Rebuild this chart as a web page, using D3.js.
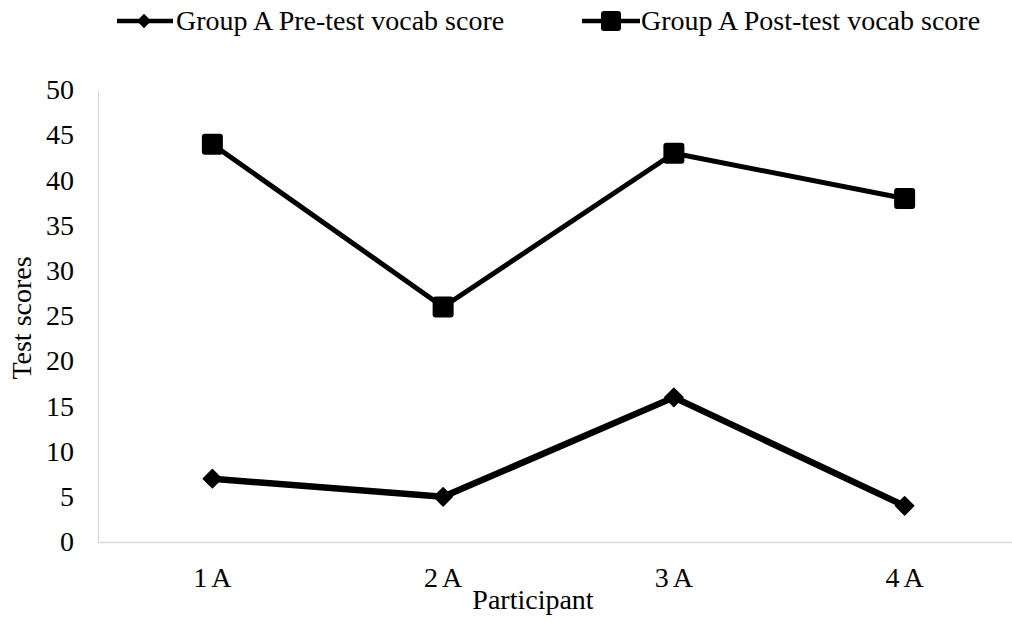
<!DOCTYPE html>
<html><head><meta charset="utf-8">
<script src="https://cdn.jsdelivr.net/npm/d3@7"></script>
<style>
html,body{margin:0;padding:0;background:#fff;}
svg text{font-family:"Liberation Serif","Times New Roman",serif;fill:#000;}
</style></head>
<body><svg id="c" width="1012" height="621"></svg>
<script>
const categories = ["1A","2A","3A","4A"];
const preScores = [7,5,16,4];
const postScores = [44,26,43,38];
const yTicks = [0,5,10,15,20,25,30,35,40,45,50];
const seriesNames = ["Group A Pre-test vocab score","Group A Post-test vocab score"];

const svg = d3.select("#c");
const x = d3.scaleBand().domain(categories).range([97,1020]);
const y = d3.scaleLinear().domain([0,50]).range([542,90]);
const FS = "28px";

// axes lines
svg.append("line").attr("x1",98.5).attr("x2",98.5).attr("y1",y(50)+1).attr("y2",y(0)+0.5)
  .attr("stroke","#d9d9d9").attr("stroke-width",1.3);
svg.append("line").attr("x1",98).attr("x2",1020).attr("y1",y(0)+0.5).attr("y2",y(0)+0.5)
  .attr("stroke","#d9d9d9").attr("stroke-width",1.3);

// y tick labels
svg.selectAll(".yt").data(yTicks).enter().append("text")
  .attr("x",74).attr("y",d=>y(d)).attr("dy","0.33em").attr("text-anchor","end")
  .style("font-size",FS).text(d=>d);

// x tick labels
svg.selectAll(".xt").data(categories).enter().append("text")
  .attr("x",d=>x(d)+x.bandwidth()/2+2).attr("y",587).attr("text-anchor","middle")
  .style("font-size",FS).style("letter-spacing","4px").text(d=>d);

// axis titles
svg.append("text").attr("x",533).attr("y",609).attr("text-anchor","middle")
  .style("font-size",FS).text("Participant");
svg.append("text").attr("transform","translate(22,318) rotate(-90)").attr("dy","0.33em")
  .attr("text-anchor","middle").style("font-size",FS).text("Test scores");

const line = d3.line().x((d,i)=>x(categories[i])+x.bandwidth()/2).y(d=>y(d));
const diamond = d3.symbol().type(d3.symbolDiamond2).size(210);

function drawSquare(g, cx, cy, s){
  g.append("rect").attr("x",cx-s/2).attr("y",cy-s/2).attr("width",s).attr("height",s)
    .attr("rx",3).attr("fill","#000");
}

// post series
svg.append("path").datum(postScores).attr("d",line).attr("fill","none")
  .attr("stroke","#000").attr("stroke-width",5).attr("stroke-linejoin","round");
postScores.forEach((v,i)=>drawSquare(svg, x(categories[i])+x.bandwidth()/2, y(v), 21));

// pre series
svg.append("path").datum(preScores).attr("d",line).attr("fill","none")
  .attr("stroke","#000").attr("stroke-width",6.5).attr("stroke-linejoin","round");
svg.selectAll(".pm").data(preScores).enter().append("path")
  .attr("d",diamond).attr("fill","#000").attr("stroke","#000").attr("stroke-width",1.5).attr("stroke-linejoin","round")
  .attr("transform",(d,i)=>`translate(${x(categories[i])+x.bandwidth()/2},${y(d)})`);

// legend
const lg1 = svg.append("g");
lg1.append("line").attr("x1",117).attr("x2",173).attr("y1",21).attr("y2",21).attr("stroke","#000").attr("stroke-width",4.5);
lg1.append("path").attr("d",d3.symbol().type(d3.symbolDiamond2).size(130)).attr("transform","translate(144,21)").attr("fill","#000");
lg1.append("text").attr("x",176).attr("y",30).style("font-size",FS).text(seriesNames[0]);

const lg2 = svg.append("g");
lg2.append("line").attr("x1",582).attr("x2",640).attr("y1",21).attr("y2",21).attr("stroke","#000").attr("stroke-width",4.5);
drawSquare(lg2, 611, 21, 20);
lg2.append("text").attr("x",641).attr("y",30).style("font-size",FS).text(seriesNames[1]);
</script></body></html>
